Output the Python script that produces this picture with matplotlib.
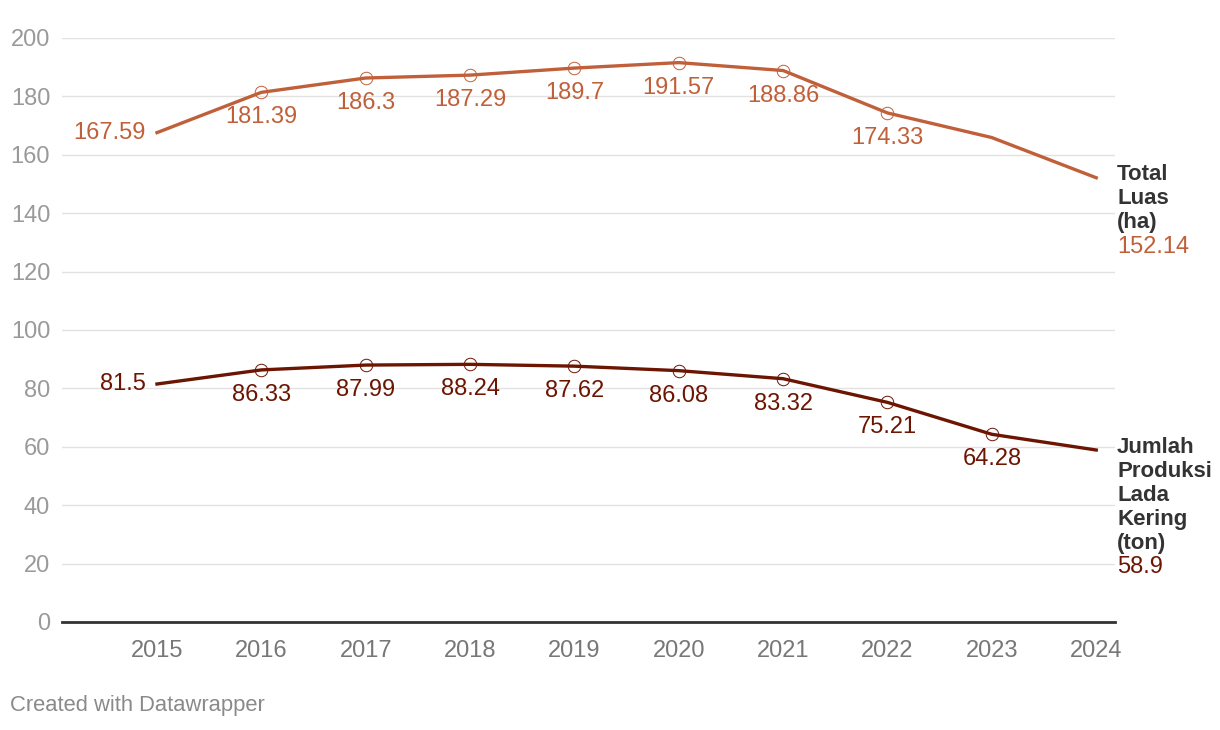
import matplotlib
matplotlib.use('Agg')
import matplotlib.pyplot as plt

# Data
years = [2015, 2016, 2017, 2018, 2019, 2020, 2021, 2022, 2023, 2024]
luas = [167.59, 181.39, 186.3, 187.29, 189.7, 191.57, 188.86, 174.33, 165.9, 152.14]
produksi = [81.5, 86.33, 87.99, 88.24, 87.62, 86.08, 83.32, 75.21, 64.28, 58.9]
yticks = [0, 20, 40, 60, 80, 100, 120, 140, 160, 180, 200]
luas_name = ['Total', 'Luas', '(ha)']
prod_name = ['Jumlah', 'Produksi', 'Lada', 'Kering', '(ton)']

# which points get a circle marker / a value label below
luas_markers = [1, 2, 3, 4, 5, 6, 7]
luas_labels = [1, 2, 3, 4, 5, 6, 7]
prod_markers = [1, 2, 3, 4, 5, 6, 7, 8]
prod_labels = [1, 2, 3, 4, 5, 6, 7, 8]

c_luas = '#c0603a'
c_prod = '#6b1502'
fs = 17

plt.rcParams['font.family'] = ['Liberation Sans', 'DejaVu Sans']

fig = plt.figure(figsize=(12.2, 7.3), dpi=100)
ax = fig.add_axes([62 / 1220, 108 / 730, (1115 - 62) / 1220, (622 - 38) / 730])

ax.set_xlim(2014.09, 2024.18)
ax.set_ylim(0, 200)

# grid
ax.set_yticks(yticks)
ax.grid(axis='y', color='#e2e2e2', linewidth=1)
ax.set_axisbelow(True)
for s in ['top', 'right', 'left']:
    ax.spines[s].set_visible(False)
ax.spines['bottom'].set_color('#333333')
ax.spines['bottom'].set_linewidth(2)
ax.tick_params(axis='both', length=0)
ax.tick_params(axis='y', labelsize=fs, labelcolor='#9a9a9a', pad=8.5)
ax.tick_params(axis='x', labelsize=fs, labelcolor='#777777', pad=13)
ax.set_xticks(years)
ax.set_xticklabels([str(y) for y in years])

# lines
ax.plot(years, luas, color=c_luas, linewidth=2.4, zorder=3)
ax.plot(years, produksi, color=c_prod, linewidth=2.4, zorder=3)

ax.plot([years[i] for i in luas_markers], [luas[i] for i in luas_markers],
        linestyle='none', marker='o', markersize=9, markerfacecolor='none',
        markeredgecolor=c_luas, markeredgewidth=0.7, zorder=4)
ax.plot([years[i] for i in prod_markers], [produksi[i] for i in prod_markers],
        linestyle='none', marker='o', markersize=9, markerfacecolor='none',
        markeredgecolor=c_prod, markeredgewidth=0.7, zorder=4)

# value labels
ax.annotate(f'{luas[0]:g}', (years[0], luas[0]), xytext=(-8, 0), textcoords='offset points',
            ha='right', va='center', fontsize=fs, color=c_luas)
for i in luas_labels:
    ax.annotate(f'{luas[i]:g}', (years[i], luas[i]), xytext=(0, -18), textcoords='offset points',
                ha='center', va='center', fontsize=fs, color=c_luas)

ax.annotate(f'{produksi[0]:g}', (years[0], produksi[0]), xytext=(-8, 0), textcoords='offset points',
            ha='right', va='center', fontsize=fs, color=c_prod)
for i in prod_labels:
    ax.annotate(f'{produksi[i]:g}', (years[i], produksi[i]), xytext=(0, -18), textcoords='offset points',
                ha='center', va='center', fontsize=fs, color=c_prod)

# series labels on the right, one line at a time (24 px pitch)
pitch = 24 / 1.389
for k, word in enumerate(luas_name):
    ax.annotate(word, (years[-1], luas[-1]), xytext=(15, 2.2 - k * pitch), textcoords='offset points',
                ha='left', va='center', fontsize=16, color='#333333', fontweight='bold',
                annotation_clip=False)
ax.annotate(f'{luas[-1]:g}', (years[-1], luas[-1]), xytext=(15, 2.2 - len(luas_name) * pitch),
            textcoords='offset points', ha='left', va='center', fontsize=fs, color=c_luas,
            annotation_clip=False)

for k, word in enumerate(prod_name):
    ax.annotate(word, (years[-1], produksi[-1]), xytext=(15, 2 - k * pitch), textcoords='offset points',
                ha='left', va='center', fontsize=16, color='#333333', fontweight='bold',
                annotation_clip=False)
ax.annotate(f'{produksi[-1]:g}', (years[-1], produksi[-1]), xytext=(15, 2 - len(prod_name) * pitch),
            textcoords='offset points', ha='left', va='center', fontsize=fs, color=c_prod,
            annotation_clip=False)

fig.text(10 / 1220, 1 - 706 / 730, 'Created with Datawrapper', ha='left', va='center',
         fontsize=15.8, color='#8a8a8a')

fig.savefig('out.png', dpi=100)
